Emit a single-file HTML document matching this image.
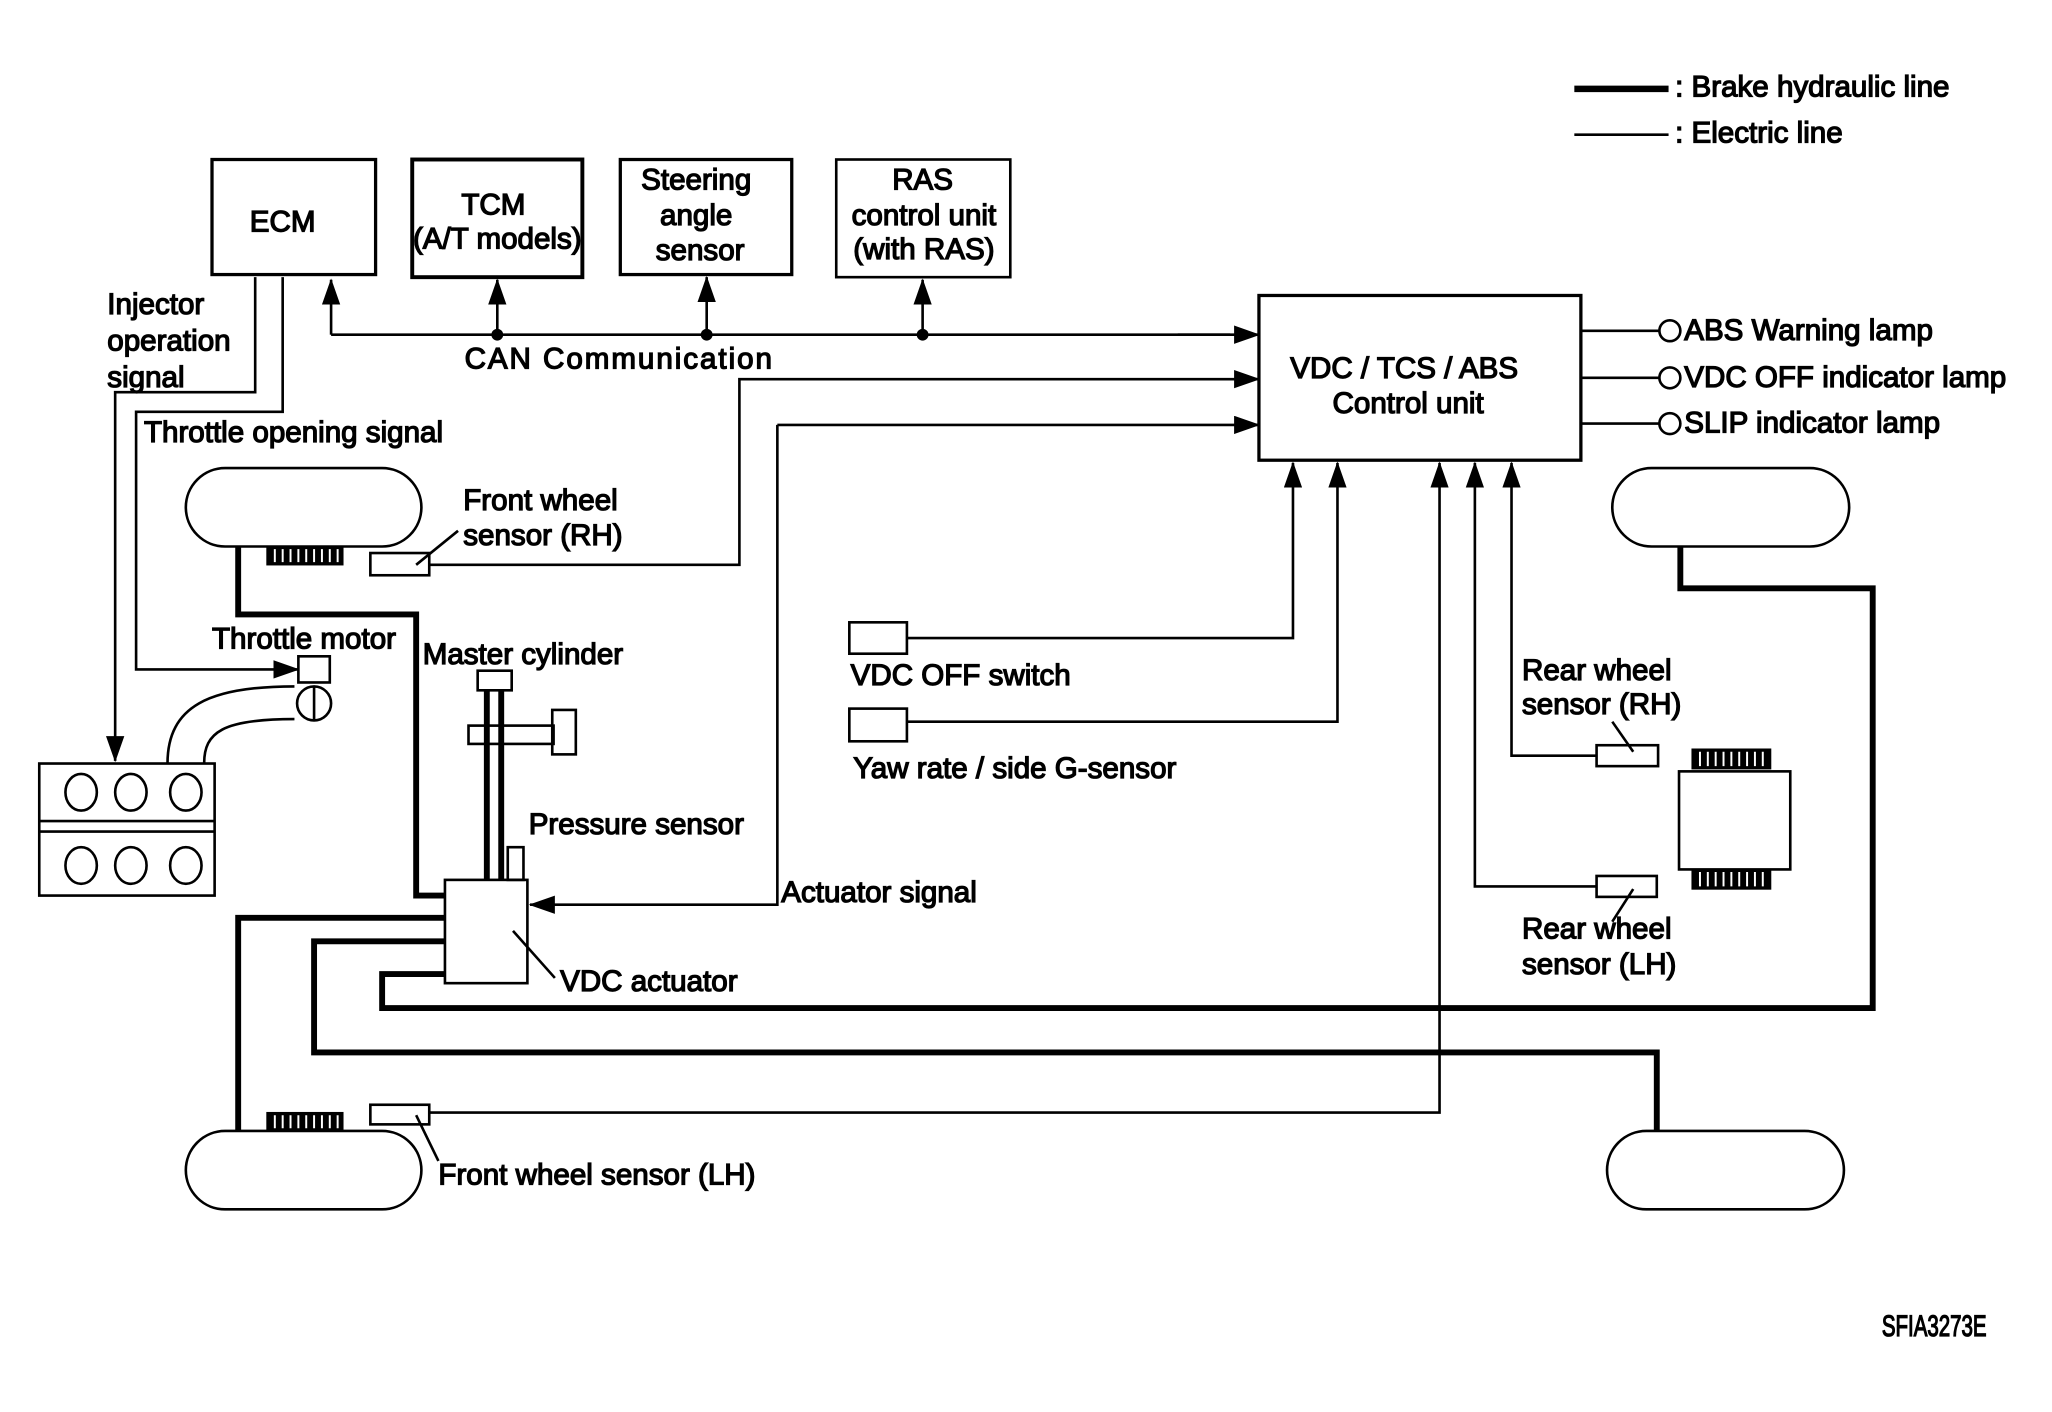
<!DOCTYPE html>
<html><head><meta charset="utf-8"><style>
html,body{margin:0;padding:0;background:#fff;}
svg{display:block;}
text{font-family:"Liberation Sans",sans-serif;font-size:22.6px;fill:#000;}
</style></head><body>
<svg width="2052" height="1412" viewBox="0 0 1568 1080" preserveAspectRatio="none" xmlns="http://www.w3.org/2000/svg">
<defs><marker id="b" markerWidth="20" markerHeight="14" refX="19" refY="7" orient="auto" markerUnits="userSpaceOnUse"><path d="M0,0 L20,7 L0,14 z"/></marker></defs>
<g fill="none" stroke="#000">
<line x1="1203" y1="68" x2="1275" y2="68" stroke-width="5"/>
<line x1="1203" y1="103" x2="1275" y2="103" stroke-width="2"/>
<rect x="162" y="122" width="125" height="88" stroke-width="2.5"/>
<rect x="315" y="122" width="130" height="90" stroke-width="3"/>
<rect x="474" y="122" width="131" height="88" stroke-width="2.5"/>
<rect x="639" y="122" width="133" height="90" stroke-width="2"/>
<rect x="962" y="226" width="246" height="126" stroke-width="2.5"/>
<g stroke-width="2">
<line x1="253" y1="256" x2="940" y2="256"/>
<line x1="253" y1="256" x2="253" y2="214" marker-end="url(#b)"/>
<line x1="380" y1="256" x2="380" y2="214" marker-end="url(#b)"/>
<line x1="540" y1="256" x2="540" y2="212" marker-end="url(#b)"/>
<line x1="705" y1="256" x2="705" y2="214" marker-end="url(#b)"/>
<line x1="900" y1="256" x2="962" y2="256" marker-end="url(#b)"/>
<polyline points="328,432 565,432 565,290 962,290" marker-end="url(#b)"/>
<line x1="594" y1="325" x2="962" y2="325" marker-end="url(#b)"/>
<polyline points="594,325 594,692 405,692" marker-end="url(#b)"/>
<line x1="1208" y1="253" x2="1268" y2="253"/><line x1="1208" y1="289" x2="1268" y2="289"/><line x1="1208" y1="324" x2="1268" y2="324"/>
<circle cx="1276" cy="253" r="8"/><circle cx="1276" cy="289" r="8"/><circle cx="1276" cy="324" r="8"/>
<polyline points="693,488 988,488 988,354" marker-end="url(#b)"/>
<polyline points="693,552 1022,552 1022,354" marker-end="url(#b)"/>
<polyline points="328,851 1100,851 1100,354" marker-end="url(#b)"/>
<polyline points="1220,678 1127,678 1127,354" marker-end="url(#b)"/>
<polyline points="1220,578 1155,578 1155,354" marker-end="url(#b)"/>
<rect x="649" y="476" width="44" height="24"/>
<rect x="649" y="542" width="44" height="25"/>
<rect x="1220" y="570" width="47" height="16"/>
<rect x="1220" y="670" width="46" height="16"/>
<rect x="283" y="423" width="45" height="17"/>
<rect x="283" y="845" width="45" height="15"/>
<polyline points="195,212 195,300 88,300 88,582" marker-end="url(#b)"/>
<polyline points="216,212 216,315 104,315 104,512 228,512" marker-end="url(#b)"/>
<line x1="318" y1="432" x2="350" y2="406"/>
<line x1="318" y1="853" x2="335" y2="888"/>
<line x1="1248" y1="575" x2="1232" y2="552"/>
<line x1="1248" y1="680" x2="1232" y2="705"/>
<line x1="392" y1="712" x2="424" y2="748"/>
<rect x="142" y="358" width="180" height="60" rx="30"/>
<rect x="1232" y="358" width="181" height="60" rx="30"/>
<rect x="142" y="865" width="180" height="60" rx="30"/>
<rect x="1228" y="865" width="181" height="60" rx="30"/>
<rect x="1283" y="590" width="85" height="75"/>
<rect x="340" y="673" width="63" height="79"/>
<rect x="228" y="502" width="24" height="20"/>
<circle cx="240" cy="538" r="13"/>
<line x1="240" y1="525" x2="240" y2="551"/>
<path d="M128,584 C128,540 160,525 225,525"/>
<path d="M156,584 C156,560 170,550 225,550"/>
<rect x="30" y="584" width="134" height="101"/>
<line x1="30" y1="628" x2="164" y2="628"/><line x1="30" y1="636" x2="164" y2="636"/>
<ellipse cx="62" cy="606" rx="12" ry="14"/><ellipse cx="100" cy="606" rx="12" ry="14"/><ellipse cx="142" cy="606" rx="12" ry="14"/>
<ellipse cx="62" cy="662" rx="12" ry="14"/><ellipse cx="100" cy="662" rx="12" ry="14"/><ellipse cx="142" cy="662" rx="12" ry="14"/>
<rect x="365" y="513" width="26" height="15"/>
<rect x="358" y="555" width="65" height="14"/>
<rect x="422" y="543" width="18" height="34"/>
<rect x="388" y="648" width="12" height="25"/>
</g>
<g fill="#000">
<rect x="204" y="418" width="58" height="14"/><rect x="204" y="851" width="58" height="14"/>
<rect x="1293" y="573" width="60" height="15"/><rect x="1293" y="665" width="60" height="15"/>
</g>
<g stroke="#fff" stroke-width="1.5">
<path d="M210,420v10M216,420v10M222,420v10M228,420v10M234,420v10M240,420v10M246,420v10M252,420v10M258,420v10"/>
<path d="M210,853v10M216,853v10M222,853v10M228,853v10M234,853v10M240,853v10M246,853v10M252,853v10M258,853v10"/>
<path d="M1299,575v11M1305,575v11M1311,575v11M1317,575v11M1323,575v11M1329,575v11M1335,575v11M1341,575v11M1347,575v11"/>
<path d="M1299,667v11M1305,667v11M1311,667v11M1317,667v11M1323,667v11M1329,667v11M1335,667v11M1341,667v11M1347,667v11"/>
</g>
<g fill="none" stroke="#000" stroke-width="4.5">
<polyline points="182,418 182,470 318,470 318,685 340,685"/>
<polyline points="340,702 182,702 182,865"/>
<polyline points="340,720 240,720 240,805 1266,805 1266,865"/>
<polyline points="340,745 292,745 292,771 1431,771 1431,450 1284,450 1284,418"/>
<line x1="372" y1="528" x2="372" y2="673"/><line x1="383" y1="528" x2="383" y2="673"/>
</g>
<g fill="#000">
<circle cx="380" cy="256" r="4"/><circle cx="540" cy="256" r="4"/><circle cx="705" cy="256" r="4"/>
</g>
<text x="1280" y="74">: Brake hydraulic line</text>
<text x="1280" y="109">: Electric line</text>
<text x="216" y="177" text-anchor="middle">ECM</text>
<text x="377" y="164" text-anchor="middle">TCM</text>
<text x="380" y="190" text-anchor="middle" font-size="20">(A/T models)</text>
<text x="532" y="145" text-anchor="middle">Steering</text>
<text x="532" y="172" text-anchor="middle">angle</text>
<text x="535" y="199" text-anchor="middle">sensor</text>
<text x="705" y="145" text-anchor="middle" font-size="21">RAS</text>
<text x="706" y="172" text-anchor="middle" font-size="21">control unit</text>
<text x="706" y="198" text-anchor="middle" font-size="20">(with RAS)</text>
<text x="355" y="282" letter-spacing="1.5">CAN Communication</text>
<text x="1073" y="289" text-anchor="middle">VDC / TCS / ABS</text>
<text x="1076" y="316" text-anchor="middle">Control unit</text>
<text x="1287" y="260">ABS Warning lamp</text>
<text x="1287" y="296">VDC OFF indicator lamp</text>
<text x="1287" y="331">SLIP indicator lamp</text>
<text x="82" y="240">Injector</text>
<text x="82" y="268">operation</text>
<text x="82" y="296">signal</text>
<text x="110" y="338">Throttle opening signal</text>
<text x="354" y="390">Front wheel</text>
<text x="354" y="417">sensor (RH)</text>
<text x="162" y="496">Throttle motor</text>
<text x="323" y="508">Master cylinder</text>
<text x="650" y="524">VDC OFF switch</text>
<text x="652" y="595">Yaw rate / side G-sensor</text>
<text x="1163" y="520">Rear wheel</text>
<text x="1163" y="546">sensor (RH)</text>
<text x="404" y="638">Pressure sensor</text>
<text x="597" y="690">Actuator signal</text>
<text x="1163" y="718">Rear wheel</text>
<text x="1163" y="745">sensor (LH)</text>
<text x="428" y="758">VDC actuator</text>
<text x="335" y="906">Front wheel sensor (LH)</text>
<text x="1438" y="1022" font-size="14" textLength="80" lengthAdjust="spacingAndGlyphs">SFIA3273E</text>
</svg>
</body></html>
